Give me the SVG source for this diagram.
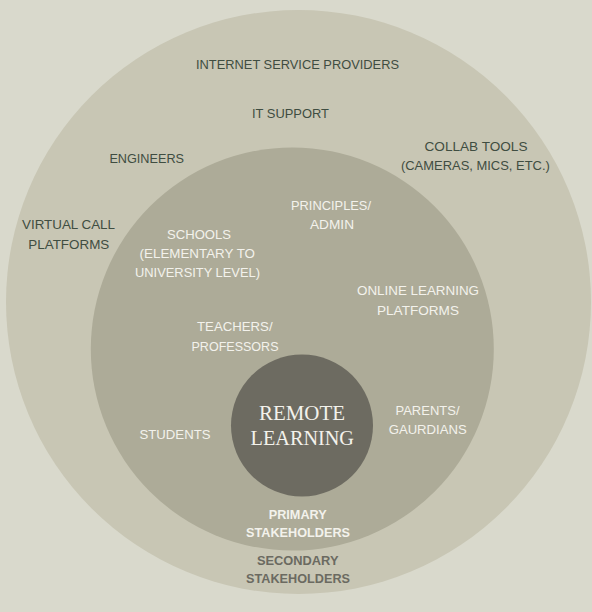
<svg xmlns="http://www.w3.org/2000/svg" width="592" height="612" viewBox="0 0 592 612">
<style>
.t{font-family:"Liberation Sans",Arial,sans-serif;font-size:13.5px;text-anchor:middle}
.g{fill:#3f4d41}
.w{fill:#f3f2ec}
.b{font-weight:bold;font-size:12.8px}
.s{fill:#6b6a61}
.serif{font-family:"Liberation Serif","Times New Roman",serif;font-size:22px;text-anchor:middle;fill:#f3f2ec}
</style>
<rect width="592" height="612" fill="#d9d9cc"/>
<g id="secondary">
<ellipse cx="298.5" cy="302" rx="292.5" ry="292" fill="#c8c6b4"/>
<text class="t g" x="297.5" y="69" textLength="203" lengthAdjust="spacingAndGlyphs">INTERNET SERVICE PROVIDERS</text>
<text class="t g" x="290.5" y="117.5" textLength="77" lengthAdjust="spacingAndGlyphs">IT SUPPORT</text>
<text class="t g" x="146.7" y="162.5" textLength="74.6" lengthAdjust="spacingAndGlyphs">ENGINEERS</text>
<text class="t g" x="476" y="150.5" textLength="103" lengthAdjust="spacingAndGlyphs">COLLAB TOOLS</text>
<text class="t g" x="475.4" y="169.5" textLength="149" lengthAdjust="spacingAndGlyphs">(CAMERAS, MICS, ETC.)</text>
<text class="t g" x="68.5" y="229" textLength="93" lengthAdjust="spacingAndGlyphs">VIRTUAL CALL</text>
<text class="t g" x="68.8" y="248.5" textLength="81" lengthAdjust="spacingAndGlyphs">PLATFORMS</text>
<text class="t b s" x="297.7" y="565" textLength="81.5" lengthAdjust="spacingAndGlyphs">SECONDARY</text>
<text class="t b s" x="298" y="583" textLength="104" lengthAdjust="spacingAndGlyphs">STAKEHOLDERS</text>
</g>
<g id="primary">
<circle cx="292.3" cy="349" r="201.5" fill="#adab98"/>
<text class="t w" x="331" y="209.5" textLength="80" lengthAdjust="spacingAndGlyphs">PRINCIPLES/</text>
<text class="t w" x="332" y="229" textLength="44" lengthAdjust="spacingAndGlyphs">ADMIN</text>
<text class="t w" x="199" y="238.5" textLength="64" lengthAdjust="spacingAndGlyphs">SCHOOLS</text>
<text class="t w" x="197.3" y="258" textLength="115.4" lengthAdjust="spacingAndGlyphs">(ELEMENTARY TO</text>
<text class="t w" x="197.5" y="277" textLength="125" lengthAdjust="spacingAndGlyphs">UNIVERSITY LEVEL)</text>
<text class="t w" x="418" y="295" textLength="122" lengthAdjust="spacingAndGlyphs">ONLINE LEARNING</text>
<text class="t w" x="418" y="314.5" textLength="82" lengthAdjust="spacingAndGlyphs">PLATFORMS</text>
<text class="t w" x="234.8" y="331" textLength="75.5" lengthAdjust="spacingAndGlyphs">TEACHERS/</text>
<text class="t w" x="235" y="350.5" textLength="87" lengthAdjust="spacingAndGlyphs">PROFESSORS</text>
<text class="t w" x="175" y="439" textLength="71" lengthAdjust="spacingAndGlyphs">STUDENTS</text>
<text class="t w" x="427.5" y="415" textLength="64" lengthAdjust="spacingAndGlyphs">PARENTS/</text>
<text class="t w" x="427.7" y="434" textLength="78" lengthAdjust="spacingAndGlyphs">GAURDIANS</text>
<text class="t b w" x="297.7" y="519" textLength="58" lengthAdjust="spacingAndGlyphs">PRIMARY</text>
<text class="t b w" x="298" y="537" textLength="104" lengthAdjust="spacingAndGlyphs">STAKEHOLDERS</text>
</g>
<g id="remote-learning">
<circle cx="302" cy="425.5" r="71" fill="#6d6b61"/>
<text class="serif" x="302" y="420" textLength="86" lengthAdjust="spacingAndGlyphs">REMOTE</text>
<text class="serif" x="302.3" y="445" textLength="103.4" lengthAdjust="spacingAndGlyphs">LEARNING</text>
</g>
<g id="connectors"/>
</svg>
